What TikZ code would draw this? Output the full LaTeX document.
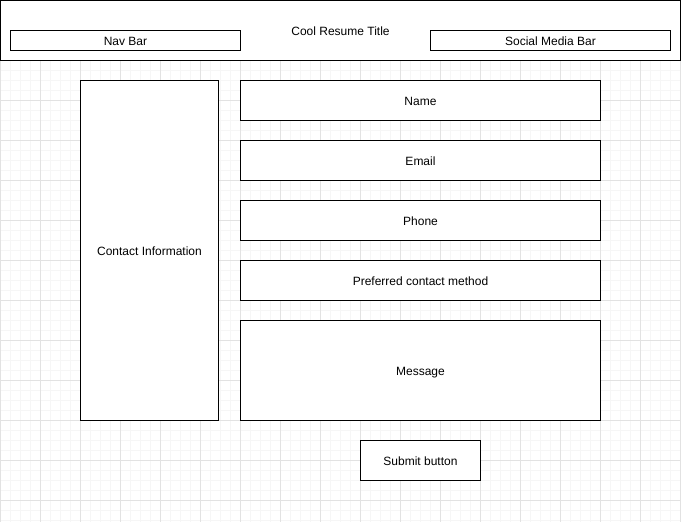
\documentclass[tikz,border=0pt]{standalone}
\usepackage{fontspec}
\setmainfont{Liberation Sans}
\usepackage{tikz}
\usetikzlibrary{positioning}
\usepackage{xcolor}
\definecolor{gridmajor}{RGB}{226,226,226}
\definecolor{gridminor}{RGB}{246,246,246}
\tikzset{
  box/.style={draw=black, line width=1pt, fill=white, inner sep=0pt,
    text height=10.5pt, text depth=0pt, font=\fontsize{12}{14}\selectfont},
}

\begin{document}
\begin{tikzpicture}[x=1pt, y=-1pt]
\useasboundingbox (0,0) rectangle (681,522);
% background grid
\foreach \x in {0,10,...,680} \draw[gridminor, line width=1pt] (\x,60) -- (\x,522);
\foreach \y in {60,70,...,520} \draw[gridminor, line width=1pt] (0,\y) -- (681,\y);
\foreach \x in {0,40,...,680} \draw[gridmajor, line width=1pt] (\x,60) -- (\x,522);
\foreach \y in {60,100,...,520} \draw[gridmajor, line width=1pt] (0,\y) -- (681,\y);
% header
\node[box, minimum width=680, minimum height=60] (header) at (340.5,30.5) {Cool Resume Title};
\node[box, minimum width=230, minimum height=20] (navbar) at (125.5,40.5) {Nav Bar};
\node[box, minimum width=240, minimum height=20] (socialbar) at (550.5,40.5) {Social Media Bar};
% contact form
\node[box, minimum width=138, minimum height=340] (contact) at (149.5,250.5) {Contact Information};
\node[box, minimum width=360, minimum height=40] (name) at (420.5,100.5) {Name};
\node[box, minimum width=360, minimum height=40] (email) at (420.5,160.5) {Email};
\node[box, minimum width=360, minimum height=40] (phone) at (420.5,220.5) {Phone};
\node[box, minimum width=360, minimum height=40] (method) at (420.5,280.5) {Preferred contact method};
\node[box, minimum width=360, minimum height=100] (message) at (420.5,370.5) {Message};
\node[box, minimum width=120, minimum height=40] (submit) at (420.5,460.5) {Submit button};
\end{tikzpicture}
\end{document}
